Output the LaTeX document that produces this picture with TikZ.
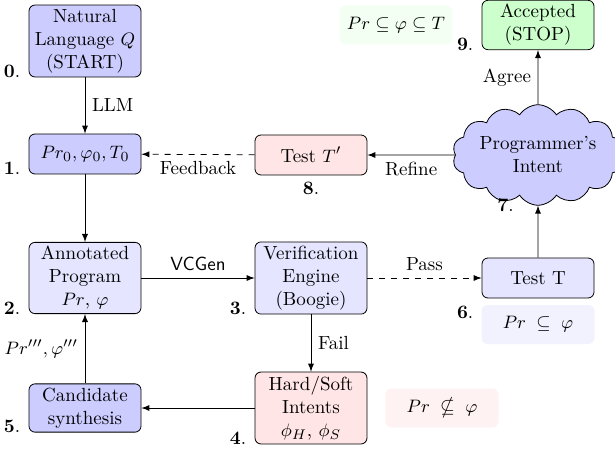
\documentclass[tikz,border=0pt]{standalone}
\usepackage{amssymb}
\usetikzlibrary{positioning,shapes.symbols}
\begin{document}
\begin{tikzpicture}[>=latex, font=\fontsize{9.5}{11.5}\selectfont,
    main/.style ={draw, rounded corners=3pt, align=center, text width=52pt, inner xsep=2pt, inner ysep=2pt, minimum height=20pt},
    note/.style ={rounded corners=3pt, minimum width=56.5pt, minimum height=19.5pt},
    num/.style ={anchor=base east, inner xsep=4pt}]
        \useasboundingbox (0,0) rectangle (307.5pt,-227pt);
        \node[main, fill=blue!20] (0) at (42.5pt,-20.5pt) {Natural\\Language $Q$\\(START)};
        \node[main, fill=blue!20, node distance=56.5pt] (1) [below of=0] {$Pr_0, \varphi_0, T_0$};
        \node[main, fill=blue!10, node distance=62pt] (2) [below of=1] {Annotated\\Program\\$Pr$, $\varphi$};
        \node[main, fill=blue!20, node distance=65pt] (5) [below of=2] {Candidate\\synthesis};
        \node[main, fill=blue!10, node distance=113pt] (3) [right of=2] {Verification\\Engine\\(Boogie)};
        \node[main, fill=red!10, node distance=65pt] (4) [below of=3] {Hard/Soft\\Intents\\$\phi_H$, $\phi_S$};
        \node[main, fill=blue!10, node distance=113.5pt] (6) [right of=3] {Test T};
        \node[cloud, draw, fill=blue!20, cloud puffs=14, cloud puff arc=115, aspect=2, minimum width=83pt, minimum height=48pt, inner sep=0pt, align=center, node distance=61.5pt] (7) [above of=6] {Programmer's\\Intent};
        \node[main, fill=red!10, node distance=113.5pt] (8) [left of=7] {Test $T'$};
        \node[main, fill=green!20, node distance=65pt] (9) [above of=7] {Accepted\\(STOP)};
        \node[note, fill=green!5, node distance=71pt] (ok) [left of=9] {$Pr \subseteq \varphi \subseteq T$};
        \node[note, fill=blue!5, node distance=23.25pt] (pass) [below of=6] {$Pr \;\subseteq\; \varphi$};
        \node[note, fill=red!5, node distance=65.5pt] (fail) [right of=4] {$Pr \;\nsubseteq\; \varphi$};
        \node[num] at (0.south west) {\textbf{0}.};
        \node[num] at (1.south west) {\textbf{1}.};
        \node[num] at (2.south west) {\textbf{2}.};
        \node[num] at (3.south west) {\textbf{3}.};
        \node[num] at (4.south west) {\textbf{4}.};
        \node[num] at (5.south west) {\textbf{5}.};
        \node[num, yshift=-10pt] at (6.south west) {\textbf{6}.};
        \node[num, xshift=-8pt, yshift=-3pt] at (7.south) {\textbf{7}.};
        \node[below] at (8.south) {\textbf{8}.};
        \node[num] at (9.south west) {\textbf{9}.};
        \draw[->] (0) -- node[right] {LLM} (1);
        \draw[->] (1) -- (2);
        \draw[->] (2) -- node[above] {\sffamily VCGen} (3);
        \draw[->, dashed] (3) -- node[above] {Pass} (6);
        \draw[->] (3) -- node[right] {Fail} (4);
        \draw[->] (4) -- (5);
        \draw[->] (5) -- node[left] {$Pr''', \varphi'''$} (2);
        \draw[->] (6) -- (7);
        \draw[->] (7) -- node[left] {Agree} (9);
        \draw[->] (7) -- node[below] {Refine} (8);
        \draw[->, dashed] (8) -- node[below] {Feedback} (1);
    \end{tikzpicture}
\end{document}
